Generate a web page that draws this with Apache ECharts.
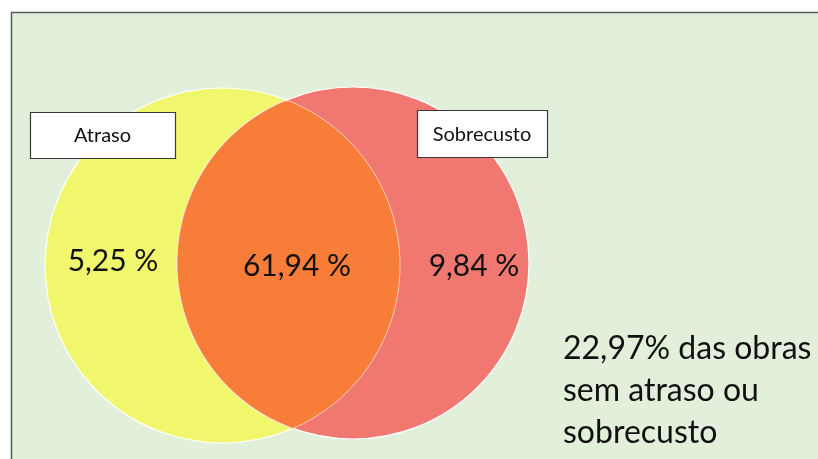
<!DOCTYPE html>
<html>
<head>
<meta charset="utf-8">
<script src="https://cdn.jsdelivr.net/npm/echarts@6/dist/echarts.min.js"></script>
<style>
  html, body { margin: 0; padding: 0; background: #fff; }
  #main { width: 818px; height: 459px; }
</style>
</head>
<body>
<div id="main"></div>
<script>
// conjuntos do diagrama
const setNames = ['Atraso', 'Sobrecusto']
// regiões: só atraso, atraso e sobrecusto, só sobrecusto, nenhum
const regionNames = ['Só atraso', 'Atraso e sobrecusto', 'Só sobrecusto', 'Nenhum']
const regionValues = [5.25, 61.94, 9.84, 22.97]

// layout (coordenadas no eixo 0..818 x 0..459)
const circles = [
  { cx: 222.5, cy: 265.5, r: 177.5, color: '#F0F76C' },
  { cx: 353, cy: 263, r: 176, color: '#F07870' }
]
const overlapColor = '#F77D38'
const boxes = [
  { x: 30, y: 112, w: 145, h: 46 },
  { x: 417, y: 110, w: 130, h: 47 }
]
const labelPos = [
  { x: 113, y: 261, align: 'center' },
  { x: 297, y: 266, align: 'center' },
  { x: 474, y: 266, align: 'center' },
  { x: 563, y: 391, align: 'left' }
]

const fmt = v => v.toFixed(2).replace('.', ',')

const myChart = echarts.init(document.getElementById('main'))

// pontos da lente (interseção) a partir dos dois círculos
function lensPoints(api) {
  const a = circles[0], b = circles[1]
  const pts = []
  const inside = (c, x, y) => (x - c.cx) ** 2 + (y - c.cy) ** 2 <= c.r * c.r
  for (let i = -180; i <= 180; i++) {
    const t = i * Math.PI / 180
    const x = a.cx + a.r * Math.cos(t), y = a.cy + a.r * Math.sin(t)
    if (inside(b, x, y)) pts.push(api.coord([x, y]))
  }
  for (let i = 0; i <= 360; i++) {
    const t = i * Math.PI / 180
    const x = b.cx + b.r * Math.cos(t), y = b.cy + b.r * Math.sin(t)
    if (inside(a, x, y)) pts.push(api.coord([x, y]))
  }
  return pts
}

myChart.setOption({
  animation: false,
  grid: { left: 0, right: 0, top: 0, bottom: 0 },
  xAxis: { type: 'value', min: 0, max: 818, show: false },
  yAxis: { type: 'value', min: 0, max: 459, inverse: true, show: false },
  // moldura e fundo verde
  graphic: [
    {
      type: 'rect',
      z: -1,
      shape: { x: 11.5, y: 12.5, width: 840, height: 480 },
      style: { fill: '#E2EFDA', stroke: '#5A5A5A', lineWidth: 1.5 }
    }
  ],
  series: [
    {
      // círculos
      type: 'custom',
      name: 'conjuntos',
      z: 2,
      data: setNames.map((n, i) => ({ name: n, value: [circles[i].cx, circles[i].cy, circles[i].r] })),
      renderItem: (params, api) => {
        const c = api.coord([api.value(0), api.value(1)])
        const r = api.size([api.value(2), 0])[0]
        return {
          type: 'circle',
          shape: { cx: c[0], cy: c[1], r: r },
          style: { fill: circles[params.dataIndex].color, stroke: '#FFFFFF', lineWidth: 1.2 }
        }
      }
    },
    {
      // interseção
      type: 'custom',
      name: regionNames[1],
      z: 3,
      data: [regionValues[1]],
      renderItem: (params, api) => ({
        type: 'polygon',
        shape: { points: lensPoints(api) },
        style: { fill: overlapColor, stroke: '#FCE3D4', lineWidth: 0.8 }
      })
    },
    {
      // percentagens
      type: 'custom',
      name: 'percentagens',
      z: 4,
      data: regionValues.map((v, i) => ({ name: regionNames[i], value: [labelPos[i].x, labelPos[i].y, v] })),
      renderItem: (params, api) => {
        const i = params.dataIndex
        const p = api.coord([api.value(0), api.value(1)])
        const v = api.value(2)
        const last = i === 3
        return {
          type: 'text',
          x: p[0],
          y: p[1],
          style: {
            text: last ? fmt(v) + '% das obras\nsem atraso ou\nsobrecusto' : fmt(v) + ' %',
            fill: '#111111',
            font: (last ? 32 : 30) + 'px Lato',
            lineHeight: 42,
            align: labelPos[i].align,
            verticalAlign: 'middle'
          }
        }
      }
    },
    {
      // caixas com nomes
      type: 'custom',
      name: 'rotulos',
      z: 5,
      data: setNames.map((n, i) => ({ name: n, value: [boxes[i].x, boxes[i].y] })),
      renderItem: (params, api) => {
        const b = boxes[params.dataIndex]
        const p = api.coord([api.value(0), api.value(1)])
        const s = api.size([b.w, b.h])
        return {
          type: 'group',
          children: [
            {
              type: 'rect',
              shape: { x: p[0] + 0.5, y: p[1] + 0.5, width: s[0], height: s[1] },
              style: { fill: '#FFFFFF', stroke: '#3A3A3A', lineWidth: 1.2 }
            },
            {
              type: 'text',
              x: p[0] + s[0] / 2,
              y: p[1] + s[1] / 2 + 1,
              style: {
                text: setNames[params.dataIndex],
                fill: '#111111',
                font: '20px Lato',
                align: 'center',
                verticalAlign: 'middle'
              }
            }
          ]
        }
      }
    }
  ]
})
</script>
</body>
</html>
